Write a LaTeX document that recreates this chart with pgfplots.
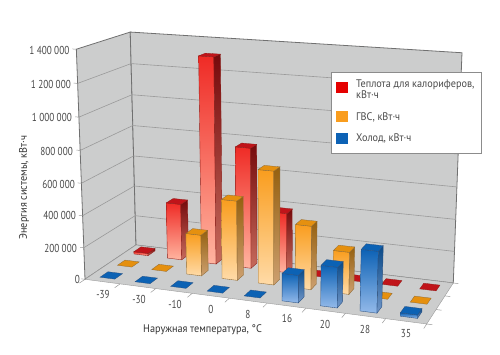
\documentclass[border=0pt]{standalone}
\usepackage{pgfplots}
\pgfplotsset{compat=1.18}
\usepackage{fontspec}
\setmainfont{PT Sans}
\newfontfamily\nar[FakeStretch=0.8]{PT Sans}
\newfontfamily\narb[FakeStretch=0.93]{PT Sans}
\definecolor{wallc}{HTML}{CCCDCD}
\definecolor{edgec}{HTML}{707070}
\definecolor{gridc}{HTML}{9A9A9A}
\definecolor{txt}{HTML}{4A4A4A}
% red
\definecolor{rF}{HTML}{EF2B26}\definecolor{rf}{HTML}{FFB5A0}
\definecolor{rS}{HTML}{760A0C}\definecolor{rs}{HTML}{C66A5C}
\definecolor{rT}{HTML}{C0141A}\definecolor{rE}{HTML}{8E1F1A}
% orange
\definecolor{oF}{HTML}{F99D1E}\definecolor{of}{HTML}{FFDBA8}
\definecolor{oS}{HTML}{95600F}\definecolor{os}{HTML}{CDA070}
\definecolor{oT}{HTML}{E5900F}\definecolor{oE}{HTML}{8E6A35}
% blue
\definecolor{bF}{HTML}{0D62B5}\definecolor{bf}{HTML}{94BAEA}
\definecolor{bS}{HTML}{0A4A88}\definecolor{bs}{HTML}{7096C8}
\definecolor{bT}{HTML}{0C62B4}\definecolor{bE}{HTML}{2A5080}
% projection of (u: along temperature, v: depth, w: value/1400000) to the picture
\newcommand\PX[3]{\fpeval{round((305.2*(#1)+62.43*(#2)-12.1*(#3)+85)/(1-0.0855*(#1)+0.08407*(#2)-0.045*(#3)),2)}}
\newcommand\PY[3]{\fpeval{round((17*(#1)-13.7*(#2)-232.3*(#3)+279.3)/(1-0.0855*(#1)+0.08407*(#2)-0.045*(#3)),2)}}
\newcommand\Pt[3]{(\PX{#1}{#2}{#3},\PY{#1}{#2}{#3}) }
\newcommand\Poly[2]{\edef\tmp{\noexpand\addplot[#1] coordinates {#2} -- cycle;}\tmp}
\newcommand\Lin[2]{\edef\tmp{\noexpand\addplot[#1] coordinates {#2};}\tmp}
% #1 category index, #2 series row (0 front), #3 value, #4 colour prefix
\newcommand\Bar[4]{%
  \edef\ua{\fpeval{(#1+0.5)/9-0.0235}}%
  \edef\ub{\fpeval{(#1+0.5)/9+0.0235}}%
  \edef\va{\fpeval{(#2+0.5)/3-0.075}}%
  \edef\vb{\fpeval{(#2+0.5)/3+0.075}}%
  \edef\w{\fpeval{#3/1400000}}%
  \ifnum\fpeval{#3>0}=1
    \Poly{draw=#4E,line width=0.35pt,top color=#4F,bottom color=#4f}{\Pt\ua\va{0} \Pt\ub\va{0} \Pt\ub\va\w \Pt\ua\va\w}
    \Poly{draw=#4E,line width=0.35pt,top color=#4S,bottom color=#4s}{\Pt\ub\va{0} \Pt\ub\vb{0} \Pt\ub\vb\w \Pt\ub\va\w}
  \fi
  \Poly{draw=#4E,line width=0.3pt,fill=#4T}{\Pt\ua\va\w \Pt\ub\va\w \Pt\ub\vb\w \Pt\ua\vb\w}
}
\begin{document}
\begin{tikzpicture}
\path[use as bounding box] (0,0) rectangle (500pt,354pt);
\begin{axis}[at={(0,0)},anchor=south west,width=500pt,height=354pt,scale only axis,
  xmin=0,xmax=500,ymin=0,ymax=354,y dir=reverse,hide axis,clip=false]
% walls and floor
\Poly{draw=edgec,line width=0.8pt,fill=wallc}{\Pt{0}{0}{0} \Pt{0}{1}{0} \Pt{0}{1}{1} \Pt{0}{0}{1}}
\Poly{draw=edgec,line width=0.8pt,fill=wallc}{\Pt{0}{1}{0} \Pt{1}{1}{0} \Pt{1}{1}{1} \Pt{0}{1}{1}}
\Poly{draw=gridc,line width=0.4pt,fill=wallc}{\Pt{0}{0}{0} \Pt{1}{0}{0} \Pt{1}{1}{0} \Pt{0}{1}{0}}
% grid
\foreach \k in {1,...,6}{
  \edef\g{\fpeval{\k/7}}
  \Lin{draw=gridc,line width=0.6pt}{\Pt{0}{0}\g \Pt{0}{1}\g \Pt{1}{1}\g}
}
\foreach \k in {0,...,7}{
  \edef\g{\fpeval{\k/7}}
  \Lin{draw=gridc,line width=0.5pt}{\Pt{-0.012}{0}\g \Pt{0}{0}\g}
}
\foreach \k in {0,...,9}{
  \edef\g{\fpeval{\k/9}}
  \Lin{draw=gridc,line width=0.5pt}{\Pt\g{0}{0} \Pt\g{-0.1}{0}}
}
\foreach \k in {0,...,3}{
  \edef\g{\fpeval{\k/3}}
  \Lin{draw=gridc,line width=0.5pt}{\Pt{1}\g{0} \Pt{1.015}\g{0}}
}
% Теплота для калориферов
\foreach \i/\val in {0/15000,1/364000,2/1310000,3/766000,4/378000,5/0,6/0,7/0,8/0}{\Bar{\i}{2}{\val}{r}}
% ГВС
\foreach \i/\val in {0/0,1/0,2/259000,3/497000,4/703000,5/392000,6/259000,7/0,8/0}{\Bar{\i}{1}{\val}{o}}
% Холод
\foreach \i/\val in {0/0,1/0,2/0,3/0,4/0,5/167000,6/244000,7/366000,8/20000}{\Bar{\i}{0}{\val}{b}}
% value labels
\begin{scope}[every node/.style={text=txt,inner sep=0pt,font=\nar\fontsize{11.5}{12}\selectfont}]
\node[anchor=east] at (axis cs:69.5,50) {1 400 000};
\node[anchor=east] at (axis cs:71,84) {1 200 000};
\node[anchor=east] at (axis cs:72,117.5) {1 000 000};
\node[anchor=east] at (axis cs:73,151) {800 000};
\node[anchor=east] at (axis cs:75,184) {600 000};
\node[anchor=east] at (axis cs:76,215.5) {400 000};
\node[anchor=east] at (axis cs:77,248) {200 000};
\node[anchor=east] at (axis cs:80,279) {0};
\node at (axis cs:103,294.5) {-39};
\node at (axis cs:139,299.5) {-30};
\node at (axis cs:175,304) {-10};
\node at (axis cs:211,309) {0};
\node at (axis cs:248,314) {8};
\node at (axis cs:287,318.5) {16};
\node at (axis cs:325,324) {20};
\node at (axis cs:365,329) {28};
\node at (axis cs:406,334) {35};
\end{scope}
\begin{scope}[every node/.style={inner sep=0pt,text=black!80,font=\narb\fontsize{11}{12}\selectfont}]
\node[rotate=90] at (axis cs:24,187.5) {Энергия системы, кВт·ч};
\node at (axis cs:202.5,330) {Наружная температура, °C};
\end{scope}
% legend
\draw[draw=gray!90,line width=0.7pt,fill=white] (axis cs:331,72.5) rectangle (axis cs:481,153);
\fill[fill=red!90!black] (axis cs:336,82) rectangle (axis cs:348,93);
\fill[fill=oF] (axis cs:336,111) rectangle (axis cs:348,122);
\fill[fill=bF] (axis cs:336,132.5) rectangle (axis cs:348,144);
\begin{scope}[every node/.style={text=txt,inner sep=0pt,anchor=west,font=\narb\fontsize{11}{12}\selectfont}]
\node at (axis cs:356,85) {Теплота для калориферов,};
\node at (axis cs:356,95) {кВт·ч};
\node at (axis cs:356,117) {ГВС, кВт·ч};
\node at (axis cs:356,138) {Холод, кВт·ч};
\end{scope}
\end{axis}
\end{tikzpicture}
\end{document}
